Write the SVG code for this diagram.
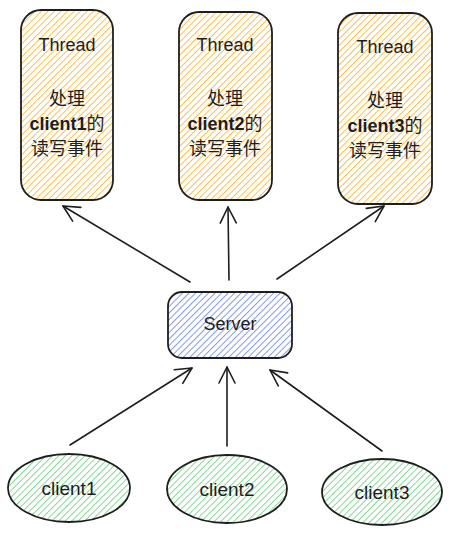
<svg xmlns="http://www.w3.org/2000/svg" width="451" height="536" viewBox="0 0 451 536">
<defs>
<pattern id="hY" patternUnits="userSpaceOnUse" width="4.6" height="4.6" patternTransform="rotate(45)">
<line x1="0" y1="0" x2="0" y2="4.6" stroke="#fbbf47" stroke-width="1.9"/>
</pattern>
<pattern id="hB" patternUnits="userSpaceOnUse" width="4.6" height="4.6" patternTransform="rotate(45)">
<line x1="0" y1="0" x2="0" y2="4.6" stroke="#7f96ee" stroke-width="1.9"/>
</pattern>
<pattern id="hG" patternUnits="userSpaceOnUse" width="4.6" height="4.6" patternTransform="rotate(45)">
<line x1="0" y1="0" x2="0" y2="4.6" stroke="#7fd68f" stroke-width="1.9"/>
</pattern>
<marker id="ah" viewBox="0 0 20 20" refX="18" refY="10" markerWidth="20" markerHeight="20" markerUnits="userSpaceOnUse" orient="auto">
<path d="M2,2 L18,10 L2,18" fill="none" stroke="#1e1e1e" stroke-width="1.6" stroke-linecap="round" stroke-linejoin="round"/>
</marker>
</defs>
<style>
.box{stroke:#1e1e1e;stroke-width:1.8;}
.t{font-family:"Liberation Sans","Noto Sans CJK SC",sans-serif;fill:#1e1e1e;text-anchor:middle;}
.en{font-size:18px;}
.cl{font-size:19px;}
.zh{font-size:18px;}
.b{font-weight:bold;}
.c{stroke:#1e1e1e;stroke-width:1.6;fill:none;stroke-linecap:round;marker-end:url(#ah);}
</style>
<g id="thread1">
<rect class="box" x="21" y="10" width="92" height="190" rx="20" fill="url(#hY)"/>
<text class="t en" x="67" y="51">Thread</text>
<text class="t zh" x="67" y="105">处理</text>
<text class="t zh" x="67" y="130"><tspan class="b">client1</tspan>的</text>
<text class="t zh" x="67" y="155">读写事件</text>
</g>
<g id="thread2">
<rect class="box" x="179" y="12" width="93" height="188" rx="20" fill="url(#hY)"/>
<text class="t en" x="225" y="51">Thread</text>
<text class="t zh" x="225" y="105">处理</text>
<text class="t zh" x="225" y="130"><tspan class="b">client2</tspan>的</text>
<text class="t zh" x="225" y="155">读写事件</text>
</g>
<g id="thread3">
<rect class="box" x="338" y="13" width="94" height="191" rx="20" fill="url(#hY)"/>
<text class="t en" x="385" y="53">Thread</text>
<text class="t zh" x="385" y="107">处理</text>
<text class="t zh" x="385" y="132"><tspan class="b">client3</tspan>的</text>
<text class="t zh" x="385" y="157">读写事件</text>
</g>
<g id="server">
<rect class="box" x="168" y="292" width="124" height="66" rx="14" fill="url(#hB)"/>
<text class="t en" x="230" y="330">Server</text>
</g>
<g id="client1">
<ellipse class="box" cx="69" cy="488" rx="61" ry="34" fill="url(#hG)"/>
<text class="t cl" x="69" y="495">client1</text>
</g>
<g id="client2">
<ellipse class="box" cx="227" cy="489" rx="60" ry="34" fill="url(#hG)"/>
<text class="t cl" x="227" y="496">client2</text>
</g>
<g id="client3">
<ellipse class="box" cx="382" cy="492" rx="60" ry="33" fill="url(#hG)"/>
<text class="t cl" x="382" y="499">client3</text>
</g>
<g id="connectors">
<line class="c" x1="190" y1="282" x2="63" y2="206"/>
<line class="c" x1="229" y1="280" x2="228" y2="207"/>
<line class="c" x1="277" y1="279" x2="384" y2="206"/>
<line class="c" x1="70" y1="445" x2="192" y2="368"/>
<line class="c" x1="227" y1="446" x2="227" y2="367"/>
<line class="c" x1="382" y1="451" x2="270" y2="370"/>
</g>
</svg>
